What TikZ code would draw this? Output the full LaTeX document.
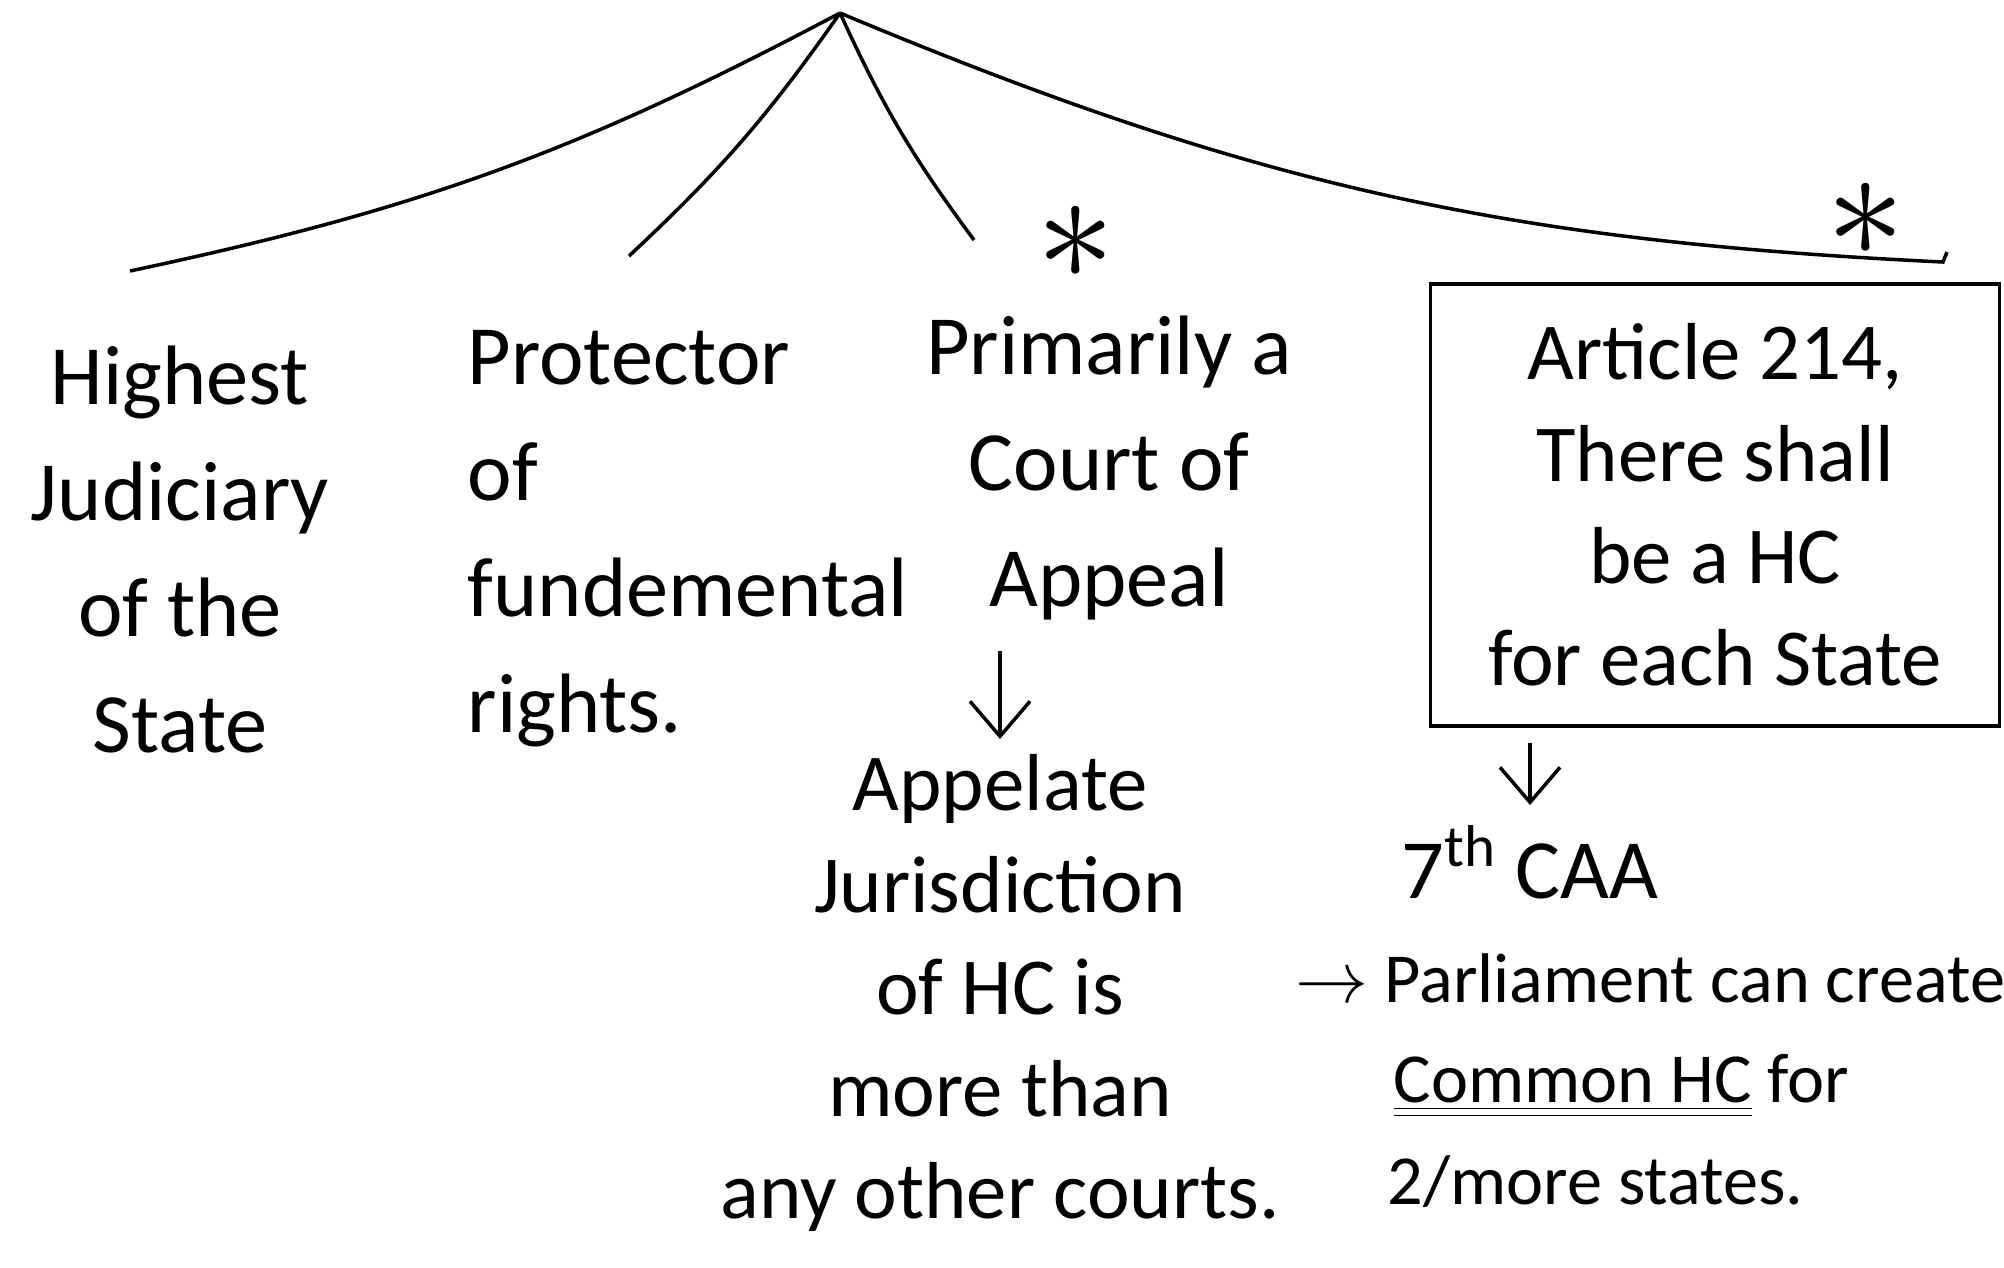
\documentclass[tikz,border=0pt]{standalone}
\usepackage{fontspec}
\setmainfont{Carlito}
\usetikzlibrary{positioning,arrows.meta}
\tikzset{hand/.style={inner sep=0pt,align=center,font=\fontsize{24}{33}\selectfont},handtight/.style={hand,font=\fontsize{23}{29}\selectfont},handsmall/.style={hand,font=\fontsize{20}{29}\selectfont},branch/.style={line width=1pt},arr/.style={-{Straight Barb[length=3.5mm,width=6mm]},line width=1pt},starmark/.style={inner sep=0pt,font=\fontsize{24}{24}\selectfont}}

\begin{document}
\begin{tikzpicture}[node distance=10mm]
\useasboundingbox (0,0) rectangle (20.04,-12.67);
\coordinate (root) at (8.40,-0.13);
\coordinate (b1) at (1.30,-2.71);
\coordinate (b2) at (6.29,-2.56);
\coordinate (b3) at (9.74,-2.40);
\coordinate (b4) at (19.43,-2.62);
\draw[branch] (root) to[bend left=8] (b1);
\draw[branch] (root) to[bend left=6] (b2);
\draw[branch] (root) to[bend right=6] (b3);
\draw[branch] (root) to[bend right=10] (b4) -- ++(0.04,0.1);
\node[starmark] (star1) at (10.76,-2.43) {\scalebox{1.8}{$\ast$}};
\node[starmark] (star2) at (18.66,-2.20) {\scalebox{1.8}{$\ast$}};
\node[hand,anchor=north] (highest) at (1.80,-3.45) {Highest\\Judiciary\\of the\\State};
\node[hand,align=left,anchor=north west] (protector) at (4.67,-3.30) {Protector\\of\\fundemental\\rights.};
\node[hand,anchor=north] (appeal) at (11.09,-3.15) {Primarily a\\Court of\\Appeal};
\node[handtight,anchor=north] (appjur) at (10.00,-7.54) {Appelate\\Jurisdiction\\of HC is\\more than\\any other courts.};
\node[handtight,draw,line width=1pt,minimum width=5.69cm,minimum height=4.42cm] (article) at (17.15,-5.05) {Article 214,\\There shall\\be a HC\\for each State};
\node[hand,anchor=north] (caa) at (15.30,-8.25) {7\textsuperscript{th} CAA};
\node[handsmall,anchor=west] (parl) at (12.95,-9.78) {$\rightarrow$ Parliament can create};
\node[handsmall,anchor=west] (common) at (13.93,-10.86) {\underline{\underline{Common HC}} for};
\node[handsmall,anchor=west] (states) at (13.87,-11.82) {2/more states.};
\draw[arr,shorten <=3mm,shorten >=1.5mm] (appeal.south -| appjur.north) -- (appjur.north);
\draw[arr,shorten <=1.5mm,shorten >=2mm] (caa.north |- article.south) -- (caa.north);
\end{tikzpicture}
\end{document}
